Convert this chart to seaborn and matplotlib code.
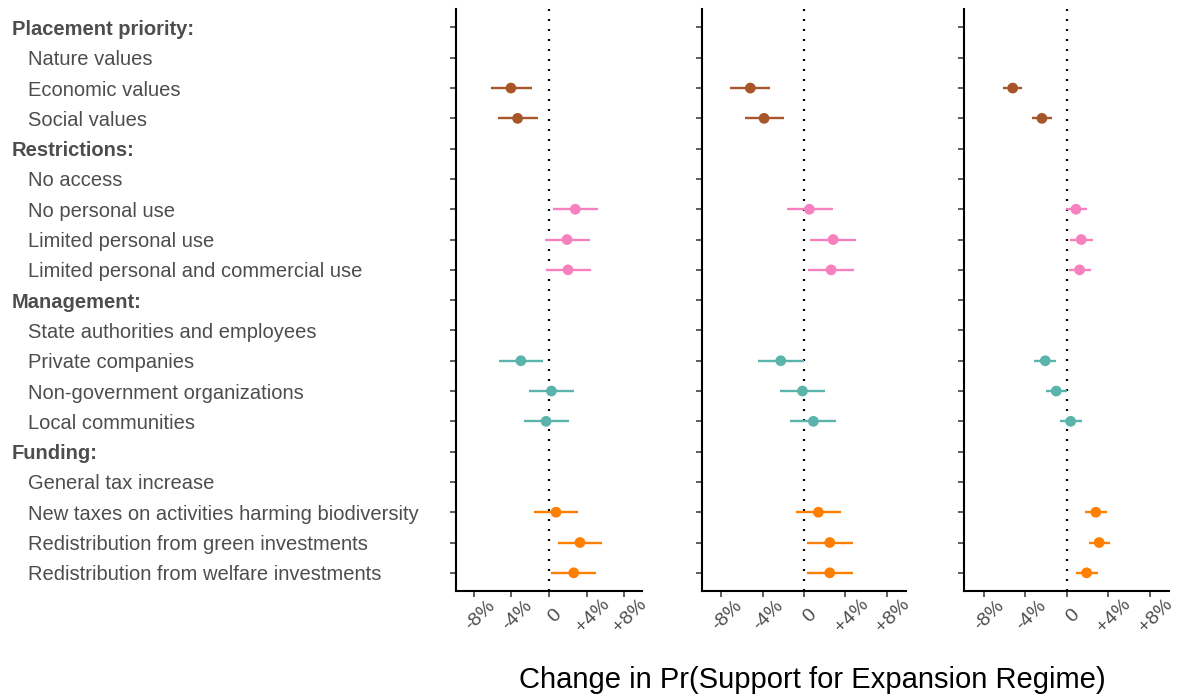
import numpy as np
import pandas as pd
import matplotlib
matplotlib.use("Agg")
import matplotlib.pyplot as plt
import matplotlib.transforms as mtransforms
import seaborn as sns

sns.set_theme(style="white")
plt.rcParams["font.family"] = ["Liberation Sans", "DejaVu Sans"]

# Row labels (headers are bold, levels indented)
rows = [
    ("Placement priority:", True),
    ("Nature values", False),
    ("Economic values", False),
    ("Social values", False),
    ("Restrictions:", True),
    ("No access", False),
    ("No personal use", False),
    ("Limited personal use", False),
    ("Limited personal and commercial use", False),
    ("Management:", True),
    ("State authorities and employees", False),
    ("Private companies", False),
    ("Non-government organizations", False),
    ("Local communities", False),
    ("Funding:", True),
    ("General tax increase", False),
    ("New taxes on activities harming biodiversity", False),
    ("Redistribution from green investments", False),
    ("Redistribution from welfare investments", False),
]

# Attribute group of each estimated level
groups = ["Placement", "Placement", "Restrictions", "Restrictions", "Restrictions",
          "Management", "Management", "Management", "Funding", "Funding", "Funding"]
levels = ["Economic values", "Social values",
          "No personal use", "Limited personal use", "Limited personal and commercial use",
          "Private companies", "Non-government organizations", "Local communities",
          "New taxes on activities harming biodiversity",
          "Redistribution from green investments",
          "Redistribution from welfare investments"]

# Marginal effects (percentage points) with confidence bounds, one set per panel
est_1 = [-4.06, -3.35, 2.79, 1.91, 2.01, -3.00, 0.25, -0.32, 0.74, 3.28, 2.62]
lo_1 = [-6.18, -5.43, 0.42, -0.46, -0.35, -5.36, -2.18, -2.68, -1.59, 0.95, 0.21]
hi_1 = [-1.87, -1.23, 5.23, 4.31, 4.42, -0.60, 2.65, 2.09, 3.04, 5.61, 4.98]

est_2 = [-5.20, -3.87, 0.51, 2.81, 2.61, -2.26, -0.16, 0.90, 1.38, 2.48, 2.48]
lo_2 = [-7.13, -5.75, -1.68, 0.58, 0.42, -4.49, -2.36, -1.32, -0.81, 0.29, 0.29]
hi_2 = [-3.26, -1.97, 2.77, 5.03, 4.80, -0.03, 2.03, 3.13, 3.61, 4.68, 4.68]

est_3 = [-5.20, -2.38, 0.90, 1.41, 1.25, -2.06, -1.00, 0.39, 2.82, 3.14, 1.93]
lo_3 = [-6.11, -3.31, -0.10, 0.35, 0.19, -3.12, -2.02, -0.67, 1.76, 2.12, 0.90]
hi_3 = [-4.28, -1.45, 1.96, 2.50, 2.31, -1.00, 0.06, 1.45, 3.88, 4.17, 2.99]

x_ticks = [-8, -4, 0, 4, 8]
x_ticklabels = ["-8%", "-4%", "0", "+4%", "+8%"]
x_title = "Change in Pr(Support for Expansion Regime)"

palette = {"Placement": "#a65628", "Restrictions": "#f781bf",
           "Management": "#5ab4ac", "Funding": "#ff7f00"}

row_pos = {name: i + 1 for i, (name, _) in enumerate(rows)}

W, H = 1179, 695
fig = plt.figure(figsize=(W / 100, H / 100), dpi=100)

panel_px = [(456, 641.7), (701.7, 906), (964, 1168.7)]
top_px, bottom_px = 9.3, 591
panels = [(est_1, lo_1, hi_1), (est_2, lo_2, hi_2), (est_3, lo_3, hi_3)]
text_grey = "#4d4d4d"

axes = []
for (x0, x1), (est, lo, hi) in zip(panel_px, panels):
    ax = fig.add_axes([x0 / W, 1 - bottom_px / H, (x1 - x0) / W, (bottom_px - top_px) / H])
    df = pd.DataFrame({"level": levels, "group": groups, "est": est, "lo": lo, "hi": hi})
    df["y"] = df["level"].map(row_pos)
    ax.axvline(0, color="black", lw=1.6, linestyle=(0, (0.9, 3.6)), zorder=1)
    for g, sub in df.groupby("group"):
        ax.hlines(sub["y"], sub["lo"], sub["hi"], color=palette[g], lw=1.7, zorder=2)
    sns.scatterplot(data=df, x="est", y="y", hue="group", palette=palette,
                    s=60, edgecolor="none", legend=False, ax=ax, zorder=3)
    ax.set_xlim(-9.9, 9.85)
    ax.set_ylim(19.6, 0.4)
    ax.set_yticks(range(1, len(rows) + 1))
    ax.set_yticklabels([])
    ax.set_xticks(x_ticks)
    ax.set_xticklabels(x_ticklabels, rotation=45, ha="center", va="top",
                       rotation_mode="anchor", color=text_grey, fontsize=14)
    ax.set_xlabel("")
    ax.set_ylabel("")
    ax.tick_params(axis="both", length=4.5, width=1.1, color="#333333",
                   left=True, bottom=True)
    ax.tick_params(axis="x", pad=9)
    for side in ["top", "right"]:
        ax.spines[side].set_visible(False)
    for side in ["left", "bottom"]:
        ax.spines[side].set_color("black")
        ax.spines[side].set_linewidth(1.5)
    ax.set_facecolor("white")
    axes.append(ax)

# Row labels in the left margin
trans = mtransforms.blended_transform_factory(fig.transFigure, axes[0].transData)
for i, (name, header) in enumerate(rows):
    x = 12 / W if header else 28 / W
    axes[0].text(x, i + 1, name, transform=trans, ha="left", va="center_baseline",
                 fontsize=14.5, color=text_grey,
                 fontweight="bold" if header else "normal", clip_on=False)

fig.text(812 / W, 1 - 680 / H, x_title, ha="center", va="center",
         fontsize=21, color="black")

fig.savefig("out.png", dpi=100, facecolor="white")
